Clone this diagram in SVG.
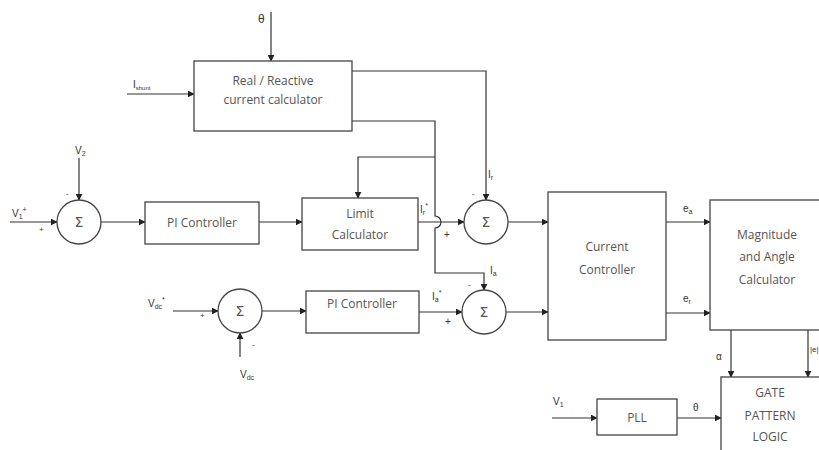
<svg xmlns="http://www.w3.org/2000/svg" width="819" height="450" viewBox="0 0 819 450">
<style>
.b{fill:#fff;stroke:#444;stroke-width:1.3}
.c{fill:none;stroke:#333;stroke-width:1.2}
.t{font-family:"Open Sans","Liberation Sans",sans-serif;font-size:12px;fill:#555;text-anchor:middle}
.s{font-family:"Liberation Sans",sans-serif;font-size:10px;fill:#333}
.g{font-family:"DejaVu Sans",sans-serif;font-size:14px;fill:#555;text-anchor:middle}
</style>
<defs>
<marker id="a" viewBox="0 0 10 10" refX="9" refY="5" markerWidth="7" markerHeight="7" orient="auto" markerUnits="userSpaceOnUse">
<path d="M0,0 L10,5 L0,10 z" fill="#222"/>
</marker>
</defs>
<rect width="819" height="450" fill="#fff"/>
<g id="connectors" class="c" marker-end="url(#a)">
<path d="M271,12 V61"/>
<path d="M127,94 H194"/>
<path d="M79,158 V200"/>
<path d="M10,222 H57"/>
<path d="M101,222 H145"/>
<path d="M259,222 H302"/>
<path d="M435,157 H358 V198"/>
<path d="M418,222 H464"/>
<path d="M352,71 H486 V200"/>
<path d="M352,121 H435 V216 A6,6 0 0 1 435,228 V273 H484 V290"/>
<path d="M508,222 H548"/>
<path d="M173,311 H218"/>
<path d="M262,311 H306"/>
<path d="M240,357 V333"/>
<path d="M419,312 H462"/>
<path d="M506,312 H548"/>
<path d="M666,222 H710"/>
<path d="M666,313 H710"/>
<path d="M731,330 V377"/>
<path d="M808,330 V377"/>
<path d="M552,418 H597"/>
<path d="M677,418 H721"/>
</g>
<g id="realreactive"><rect class="b" x="194" y="61" width="158" height="70"/><text class="t" x="273" y="85">Real / Reactive</text><text class="t" x="273" y="104">current calculator</text></g>
<g id="sum1"><circle class="b" cx="79" cy="222" r="22"/><text class="g" x="79" y="227">Σ</text></g>
<g id="pi1"><rect class="b" x="145" y="202" width="114" height="42"/><text class="t" x="202" y="227">PI Controller</text></g>
<g id="limit"><rect class="b" x="302" y="198" width="116" height="52"/><text class="t" x="360" y="218">Limit</text><text class="t" x="360" y="239">Calculator</text></g>
<g id="sum2"><circle class="b" cx="486" cy="222" r="22"/><text class="g" x="486" y="227">Σ</text></g>
<g id="sum3"><circle class="b" cx="240" cy="311" r="22"/><text class="g" x="240" y="316">Σ</text></g>
<g id="pi2"><rect class="b" x="306" y="291" width="113" height="42"/><text class="t" x="362" y="308">PI Controller</text></g>
<g id="sum4"><circle class="b" cx="484" cy="312" r="22"/><text class="g" x="484" y="317">Σ</text></g>
<g id="current"><rect class="b" x="548" y="192" width="118" height="148"/><text class="t" x="607" y="251">Current</text><text class="t" x="607" y="274">Controller</text></g>
<g id="magnitude"><rect class="b" x="710" y="200" width="120" height="130"/><text class="t" x="767" y="239">Magnitude</text><text class="t" x="767" y="261">and Angle</text><text class="t" x="767" y="284">Calculator</text></g>
<g id="gate"><rect class="b" x="721" y="377" width="110" height="90"/><text class="t" x="770" y="397">GATE</text><text class="t" x="770" y="420">PATTERN</text><text class="t" x="770" y="441">LOGIC</text></g>
<g id="pll"><rect class="b" x="597" y="399" width="80" height="36"/><text class="t" x="637" y="422">PLL</text></g>
<g id="labels" class="s">
<text x="258" y="23" font-size="12">θ</text>
<text x="133" y="88">I<tspan font-size="6" dy="2">shunt</tspan></text>
<text x="75" y="154">V<tspan font-size="7" dy="2">2</tspan></text>
<text x="12" y="217">V<tspan font-size="7" dy="2">1</tspan><tspan font-size="7" dy="-7">+</tspan></text>
<text x="66" y="196" font-size="8">-</text>
<text x="39" y="232" font-size="8">+</text>
<text x="420" y="213">I<tspan font-size="7" dy="2">r</tspan><tspan font-size="7" dy="-7">*</tspan></text>
<text x="488" y="178">I<tspan font-size="7" dy="2">r</tspan></text>
<text x="472" y="196" font-size="8">-</text>
<text x="444" y="238">+</text>
<text x="490" y="274">I<tspan font-size="7" dy="2">a</tspan></text>
<text x="468" y="287" font-size="8">-</text>
<text x="432" y="300">I<tspan font-size="7" dy="2">a</tspan><tspan font-size="7" dy="-7">*</tspan></text>
<text x="445" y="325">+</text>
<text x="148" y="307">V<tspan font-size="7" dy="2">dc</tspan><tspan font-size="7" dy="-7">*</tspan></text>
<text x="200" y="318" font-size="8">+</text>
<text x="252" y="347" font-size="8">-</text>
<text x="240" y="378">V<tspan font-size="7" dy="2">dc</tspan></text>
<text x="683" y="212">e<tspan font-size="7" dy="2">a</tspan></text>
<text x="683" y="302">e<tspan font-size="7" dy="2">r</tspan></text>
<text x="716" y="360">α</text>
<text x="810" y="352" font-size="8">|e|</text>
<text x="553" y="405">V<tspan font-size="7" dy="2">1</tspan></text>
<text x="693" y="411">θ</text>
</g>
</svg>
